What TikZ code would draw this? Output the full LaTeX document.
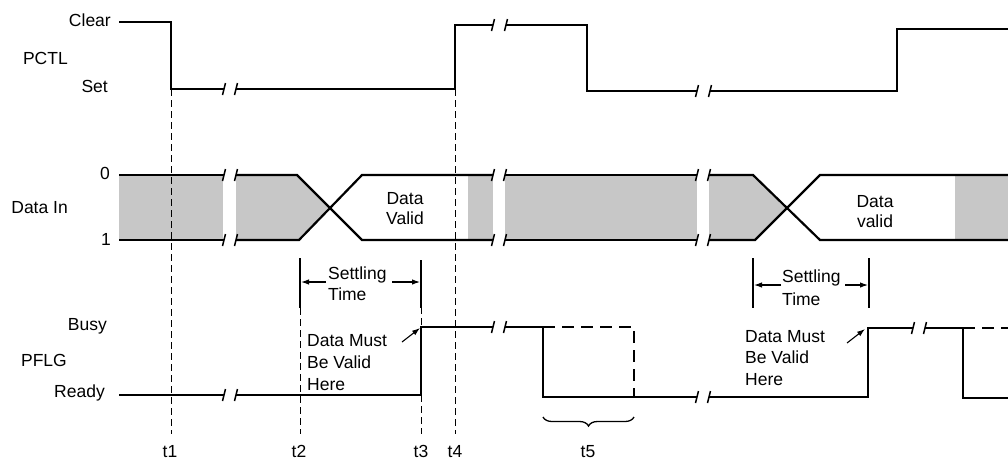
\documentclass[tikz,border=0pt]{standalone}
\usepackage{fontspec}
\setmainfont{Liberation Sans}
\usetikzlibrary{arrows.meta,decorations.pathreplacing}
\tikzset{
  sig/.style={line width=2.2pt, line join=miter},
  tickmark/.style={line width=1.5pt},
  tline/.style={line width=0.9pt, dash pattern=on 7pt off 4pt},
  dsig/.style={line width=2.2pt, dash pattern=on 12pt off 7pt},
  hatch/.style={fill=black!22, draw=none},
  txt/.style={font=\fontsize{17.5}{21}\selectfont, inner sep=0pt},
  barline/.style={line width=1.8pt},
  arr/.style={line width=1.1pt, -{Latex[length=8pt,width=5.5pt]}},
}
\newcommand{\brkmark}[2]{\draw[tickmark] (#1-1.5,#2+6) -- (#1+1.5,#2-6);}
\begin{document}
\begin{tikzpicture}[x=1pt,y=-1pt]
\useasboundingbox (0,0) rectangle (1008,459);

% signal labels
\node[txt,anchor=base east] (clear) at (111,26) {Clear};
\node[txt,anchor=base east] (pctl) at (68,64) {PCTL};
\node[txt,anchor=base east] (set) at (108,92) {Set};
\node[txt,anchor=base east] (datain) at (68,213) {Data In};
\node[txt,anchor=base east] (zero) at (110,179) {0};
\node[txt,anchor=base east] (one) at (111,245) {1};
\node[txt,anchor=base east] (busy) at (107,330) {Busy};
\node[txt,anchor=base east] (pflg) at (67,366) {PFLG};
\node[txt,anchor=base east] (ready) at (105,397) {Ready};

% Data In shading
\fill[hatch] (119,175) rectangle (223,240);
\fill[hatch] (236,175) -- (297,175) -- (330,208) -- (299,240) -- (236,240) -- cycle;
\fill[hatch] (468,175) rectangle (493,240);
\fill[hatch] (505,175) rectangle (697,240);
\fill[hatch] (709,175) -- (753,175) -- (787,208) -- (755,240) -- (709,240) -- cycle;
\fill[hatch] (955,175) rectangle (1008,240);

% Data In lines
\draw[sig] (119,175) -- (224,175);
\draw[sig] (119,240) -- (224,240);
\brkmark{224}{175}\brkmark{236}{175}\brkmark{224}{240}\brkmark{236}{240}
\draw[sig] (236,175) -- (297,175) -- (362,240) -- (493,240);
\draw[sig] (236,240) -- (299,240) -- (362,175) -- (493,175);
\brkmark{493}{175}\brkmark{505}{175}\brkmark{493}{240}\brkmark{505}{240}
\draw[sig] (505,175) -- (697,175);
\draw[sig] (505,240) -- (697,240);
\brkmark{697}{175}\brkmark{709}{175}\brkmark{697}{240}\brkmark{709}{240}
\draw[sig] (709,175) -- (753,175) -- (820,240) -- (1008,240);
\draw[sig] (709,240) -- (755,240) -- (820,175) -- (1008,175);

% PCTL
\draw[sig] (119,22) -- (171,22) -- (171,89) -- (224,89);
\brkmark{224}{89}\brkmark{236}{89}
\draw[sig] (236,89) -- (455,89) -- (455,25) -- (493,25);
\brkmark{493}{25}\brkmark{506}{25}
\draw[sig] (506,25) -- (587,25) -- (587,91) -- (697,91);
\brkmark{697}{91}\brkmark{710}{91}
\draw[sig] (710,91) -- (897,91) -- (897,29) -- (1008,29);

% PFLG
\draw[sig] (119,395) -- (224,395);
\brkmark{224}{395}\brkmark{236}{395}
\draw[sig] (236,395) -- (421,395) -- (421,327) -- (493,327);
\brkmark{493}{327}\brkmark{505}{327}
\draw[sig] (505,327) -- (543,327) -- (543,397) -- (697,397);
\brkmark{697}{397}\brkmark{709}{397}
\draw[sig] (709,397) -- (868,397) -- (868,328) -- (913,328);
\brkmark{913}{328}\brkmark{925}{328}
\draw[sig] (925,328) -- (963,328) -- (963,398) -- (1008,398);
\draw[dsig] (543,327) -- (634,327) -- (634,397);
\draw[dsig] (963,328) -- (1008,328);

% time lines
\draw[tline] (171,89) -- (171,434);
\draw[tline] (300,308) -- (300,434);
\draw[tline] (421,307) -- (421,434);
\draw[tline] (455,89) -- (455,434);
\node[txt,anchor=base] (t1) at (170,457) {t1};
\node[txt,anchor=base] (t2) at (299,457) {t2};
\node[txt,anchor=base] (t3) at (421,457) {t3};
\node[txt,anchor=base] (t4) at (455,457) {t4};
\node[txt,anchor=base] (t5) at (588,457) {t5};
\draw[line width=1.3pt, decorate, decoration={brace,mirror,amplitude=9pt}] (543,417) -- (634,417);

% Data valid texts
\node[txt,anchor=base] (dv1a) at (405,204) {Data};
\node[txt,anchor=base] (dv1b) at (405,224) {Valid};
\node[txt,anchor=base] (dv2a) at (875,207) {Data};
\node[txt,anchor=base] (dv2b) at (875,227) {valid};

% Settling time 1
\draw[barline] (300,258) -- (300,308);
\draw[barline] (421,260) -- (421,308);
\node[txt,anchor=base west] (st1a) at (328,279) {Settling};
\node[txt,anchor=base west] (st1b) at (328,300) {Time};
\draw[arr] (326,282) -- (301,282);
\draw[arr] (392,282) -- (420,282);

% Settling time 2
\draw[barline] (753,258) -- (753,308);
\draw[barline] (869,258) -- (869,308);
\node[txt,anchor=base west] (st2a) at (782,282) {Settling};
\node[txt,anchor=base west] (st2b) at (782,305) {Time};
\draw[arr] (781,285) -- (754,285);
\draw[arr] (845,285) -- (868,285);

% Data must be valid here
\node[txt,anchor=base west] (dm1a) at (307,346) {Data Must};
\node[txt,anchor=base west] (dm1b) at (307,368) {Be Valid};
\node[txt,anchor=base west] (dm1c) at (307,390) {Here};
\draw[arr] (402,342) -- (420,328);
\node[txt,anchor=base west] (dm2a) at (745,342) {Data Must};
\node[txt,anchor=base west] (dm2b) at (745,363) {Be Valid};
\node[txt,anchor=base west] (dm2c) at (745,385) {Here};
\draw[arr] (847,343) -- (865,329);
\end{tikzpicture}
\end{document}
